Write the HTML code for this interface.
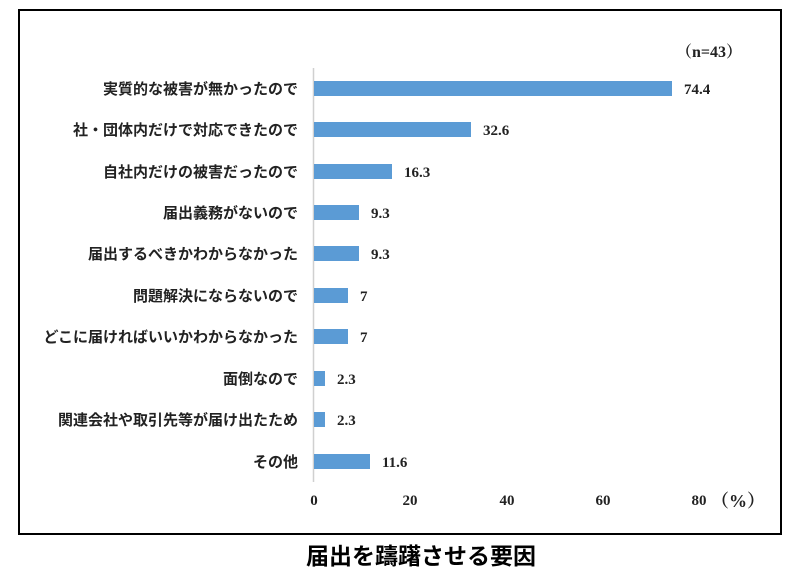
<!DOCTYPE html>
<html><head><meta charset="utf-8"><style>
body{margin:0;width:800px;height:582px;background:#fff;overflow:hidden}
</style></head><body>
<svg width="800" height="582" xmlns="http://www.w3.org/2000/svg">
<rect x="19" y="10" width="762" height="524" fill="none" stroke="#000" stroke-width="2"/>
<line x1="313.5" y1="68" x2="313.5" y2="482" stroke="#d0d0d0" stroke-width="1.5"/>
<g font-family="'Liberation Serif','Noto Serif CJK SC',serif" font-weight="bold" font-size="16" fill="#222">
<text x="676" y="57">（n=43）</text>
</g>
<g fill="#5b9bd5">
<rect x="314" y="81" width="358" height="15"/>
<rect x="314" y="122" width="157" height="15"/>
<rect x="314" y="164" width="78" height="15"/>
<rect x="314" y="205" width="45" height="15"/>
<rect x="314" y="246" width="45" height="15"/>
<rect x="314" y="288" width="34" height="15"/>
<rect x="314" y="329" width="34" height="15"/>
<rect x="314" y="371" width="11" height="15"/>
<rect x="314" y="412" width="11" height="15"/>
<rect x="314" y="454" width="56" height="15"/>
</g>
<g font-family="'Liberation Sans','Noto Sans CJK JP',sans-serif" font-weight="bold" font-size="15" fill="#222" text-anchor="end">
<text x="298" y="94">実質的な被害が無かったので</text>
<text x="298" y="135">社・団体内だけで対応できたので</text>
<text x="298" y="177">自社内だけの被害だったので</text>
<text x="298" y="218">届出義務がないので</text>
<text x="298" y="259">届出するべきかわからなかった</text>
<text x="298" y="301">問題解決にならないので</text>
<text x="298" y="342">どこに届ければいいかわからなかった</text>
<text x="298" y="384">面倒なので</text>
<text x="298" y="425">関連会社や取引先等が届け出たため</text>
<text x="298" y="467">その他</text>
</g>
<g font-family="'Liberation Serif',serif" font-weight="bold" font-size="15" fill="#222">
<text x="684" y="94">74.4</text>
<text x="483" y="135">32.6</text>
<text x="404" y="177">16.3</text>
<text x="371" y="218">9.3</text>
<text x="371" y="259">9.3</text>
<text x="360" y="301">7</text>
<text x="360" y="342">7</text>
<text x="337" y="384">2.3</text>
<text x="337" y="425">2.3</text>
<text x="382" y="467">11.6</text>
</g>
<g font-family="'Liberation Serif',serif" font-weight="bold" font-size="15" fill="#222" text-anchor="middle">
<text x="314" y="505">0</text>
<text x="410" y="505">20</text>
<text x="507" y="505">40</text>
<text x="603" y="505">60</text>
<text x="699" y="505">80</text>
</g>
<text x="711" y="507" font-family="'Liberation Serif','Noto Serif CJK SC',serif" font-weight="bold" font-size="18" fill="#222">（%）</text>
<text x="421" y="564" text-anchor="middle" font-family="'Liberation Sans','Noto Sans CJK JP',sans-serif" font-weight="bold" font-size="23" fill="#000">届出を躊躇させる要因</text>
</svg>
</body></html>
